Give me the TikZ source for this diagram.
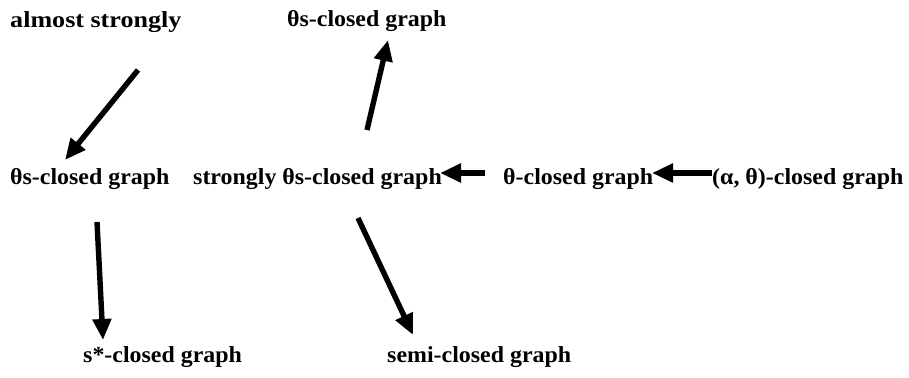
\documentclass[tikz,border=0pt]{standalone}
\usepackage{fontspec}
\setmainfont{Liberation Serif}[FakeStretch=1.04]
\usetikzlibrary{arrows.meta}
\tikzset{
  lbl/.style={anchor=base west, inner sep=0pt, font=\fontsize{23}{27}\selectfont\bfseries},
  wide/.style={transform shape, xscale=1.09},
  arr/.style={line width=5.4pt, -{Triangle[length=21pt,width=18pt]}, shorten >=0pt}
}
\begin{document}
\begin{tikzpicture}[x=1pt,y=1pt]
\useasboundingbox (0,0) rectangle (909,377);
% labels (y = 377 - image y of baseline)
\node[lbl, wide] (as) at (10,349) {almost strongly};
\node[lbl] (ts) at (287,350) {θs-closed graph};
\node[lbl] (tsl) at (10,192) {θs-closed graph};
\node[lbl] (sts) at (193,192) {strongly θs-closed graph};
\node[lbl] (tc) at (503,192) {θ-closed graph};
\node[lbl] (atc) at (712,192) {(α, θ)-closed graph};
\node[lbl] (ssc) at (83,15) {s*-closed graph};
\node[lbl] (sc) at (387,15) {semi-closed graph};
% arrow endpoints
\coordinate (a1s) at (138,307); \coordinate (a1e) at (65,217);
\coordinate (a2s) at (367,247); \coordinate (a2e) at (388,337);
\coordinate (a3s) at (485,204); \coordinate (a3e) at (440,204);
\coordinate (a4s) at (712,204); \coordinate (a4e) at (652,204);
\coordinate (a5s) at (97,155); \coordinate (a5e) at (103,37);
\coordinate (a6s) at (358,159); \coordinate (a6e) at (413,42);
\draw[arr] (a1s) -- (a1e);
\draw[arr] (a2s) -- (a2e);
\draw[arr] (a3s) -- (a3e);
\draw[arr] (a4s) -- (a4e);
\draw[arr] (a5s) -- (a5e);
\draw[arr] (a6s) -- (a6e);
\end{tikzpicture}
\end{document}
